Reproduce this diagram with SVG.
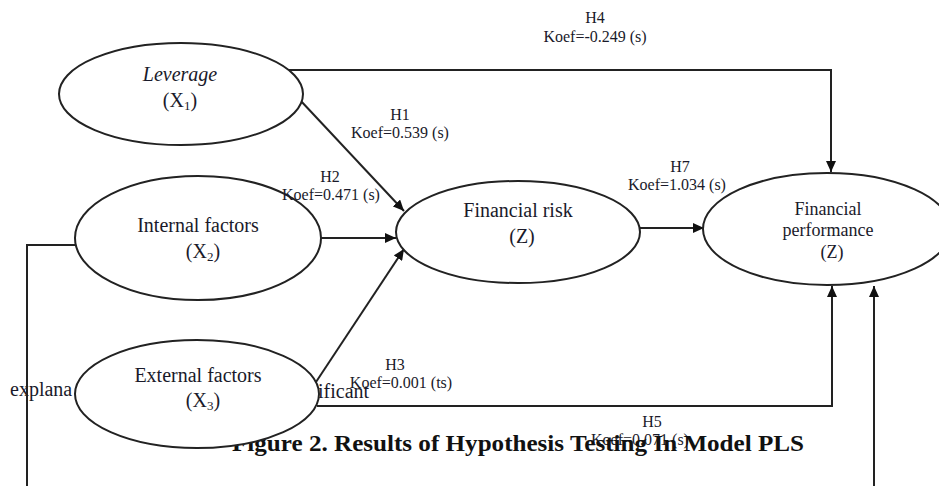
<svg xmlns="http://www.w3.org/2000/svg" width="939" height="486" viewBox="0 0 939 486">
<defs>
<marker id="arr" markerUnits="userSpaceOnUse" markerWidth="12" markerHeight="10" refX="11" refY="5" orient="auto">
<path d="M0,0 L11,5 L0,10 z" fill="#111"/>
</marker>
<style>
.node{fill:#fff;stroke:#222;stroke-width:2}
.t{font-family:"Liberation Serif","Times New Roman",serif;fill:#1a1a2a;text-anchor:middle}
.n20{font-size:20px}
.n18{font-size:18px}
.lab{font-size:16px}
.con{fill:none;stroke:#222;stroke-width:2}
.cap{font-family:"Liberation Serif","Times New Roman",serif;font-size:24px;font-weight:bold;fill:#111}
</style>
</defs>
<rect width="939" height="486" fill="#fff"/>
<g id="stray-texts">
<text class="t lab" x="640" y="445">Koef=0.071 (s)</text>
<text class="cap" x="232" y="451" textLength="572" lengthAdjust="spacingAndGlyphs">Figure 2. Results of Hypothesis Testing In Model PLS</text>
<text class="t n20" x="10" y="396" style="text-anchor:start">explana</text>
<text class="t n20" x="318" y="398" style="text-anchor:start">ificant</text>
</g>
<g id="connectors">
<path class="con" d="M289,70 H831 V172" marker-end="url(#arr)"/>
<path class="con" d="M300,100 L404,211" marker-end="url(#arr)"/>
<path class="con" d="M321,238 H396" marker-end="url(#arr)"/>
<path class="con" d="M316,382 L404,249" marker-end="url(#arr)"/>
<path class="con" d="M640,228 H704" marker-end="url(#arr)"/>
<path class="con" d="M317,406 H832 V286" marker-end="url(#arr)"/>
<path class="con" d="M76,245 H27 V486"/>
<path class="con" d="M874,486 V286" marker-end="url(#arr)"/>
</g>
<g id="node-leverage">
<ellipse class="node" cx="181" cy="94" rx="122" ry="51"/>
<text class="t n20" x="180" y="81" font-style="italic">Leverage</text>
<text class="t n20" x="180" y="107">(X<tspan font-size="13" dy="3">1</tspan><tspan dy="-3">)</tspan></text>
</g>
<g id="node-internal">
<ellipse class="node" cx="198" cy="238" rx="123" ry="62"/>
<text class="t n20" x="198" y="232">Internal factors</text>
<text class="t n20" x="203" y="258">(X<tspan font-size="13" dy="3">2</tspan><tspan dy="-3">)</tspan></text>
</g>
<g id="node-external">
<ellipse class="node" cx="197" cy="394" rx="122" ry="54"/>
<text class="t n20" x="198" y="382">External factors</text>
<text class="t n20" x="203" y="407">(X<tspan font-size="13" dy="3">3</tspan><tspan dy="-3">)</tspan></text>
</g>
<g id="node-risk">
<ellipse class="node" cx="518" cy="232" rx="122" ry="51"/>
<text class="t n20" x="518" y="217">Financial risk</text>
<text class="t n20" x="522" y="243">(Z)</text>
</g>
<g id="node-performance">
<ellipse class="node" cx="827" cy="229" rx="124" ry="56"/>
<text class="t n18" x="828" y="215">Financial</text>
<text class="t n18" x="828" y="236">performance</text>
<text class="t n18" x="832" y="258">(Z)</text>
</g>
<g id="edge-labels">
<text class="t lab" x="595" y="23">H4</text>
<text class="t lab" x="595" y="42">Koef=-0.249 (s)</text>
<text class="t lab" x="400" y="120">H1</text>
<text class="t lab" x="400" y="138">Koef=0.539 (s)</text>
<text class="t lab" x="330" y="182">H2</text>
<text class="t lab" x="331" y="200">Koef=0.471 (s)</text>
<text class="t lab" x="680" y="172">H7</text>
<text class="t lab" x="677" y="190">Koef=1.034 (s)</text>
<text class="t lab" x="395" y="370">H3</text>
<text class="t lab" x="401" y="388">Koef=0.001 (ts)</text>
<text class="t lab" x="652" y="427">H5</text>
</g>
</svg>
